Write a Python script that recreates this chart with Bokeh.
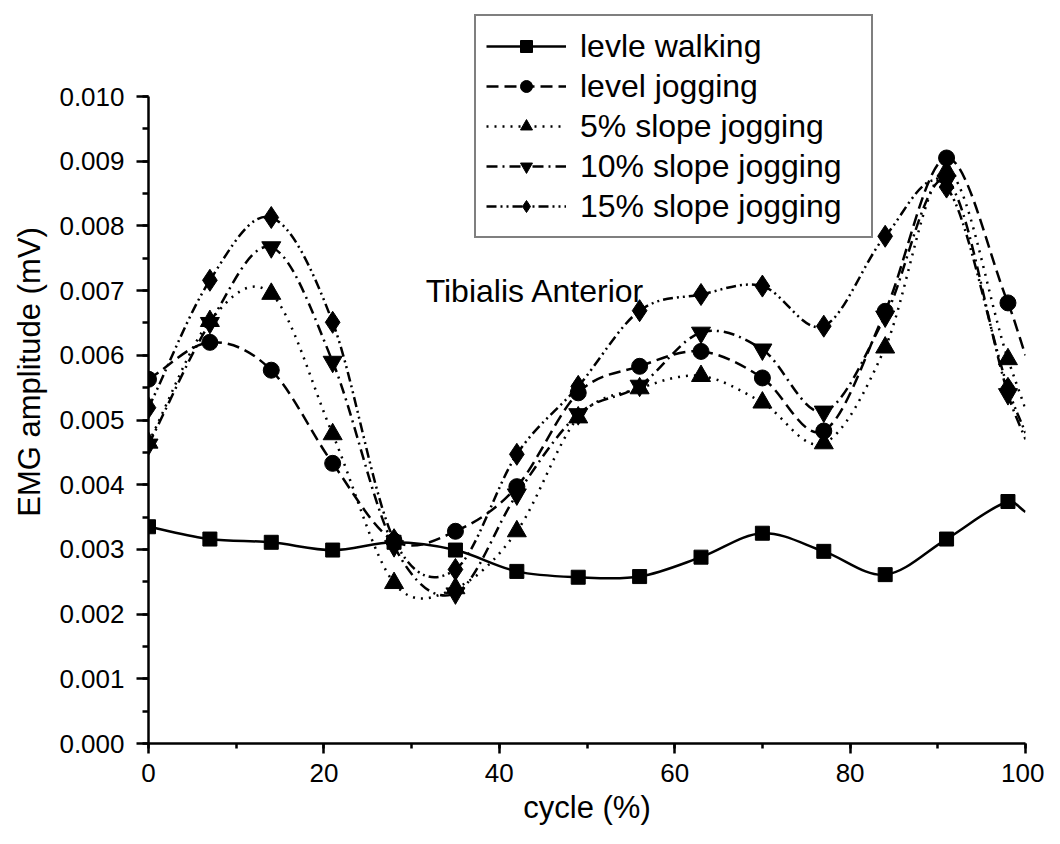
import numpy as np
from bokeh.plotting import figure
from bokeh.models import (Range1d, SingleIntervalTicker, PrintfTickFormatter,
                          Legend, LegendItem, Label, Title, ColumnDataSource)
from bokeh.embed import file_html
from bokeh.resources import INLINE

# gait cycle (%) ; the last point (100) is the end of each curve, markers at 0..98
cycle = [0, 7, 14, 21, 28, 35, 42, 49, 56, 63, 70, 77, 84, 91, 98, 100]

levle_walking = [0.00335, 0.00316, 0.00311, 0.00299, 0.00311, 0.00299, 0.00266, 0.00257,
                 0.00258, 0.00288, 0.00325, 0.00297, 0.00261, 0.00316, 0.00374, 0.00358]
level_jogging = [0.00563, 0.00620, 0.00577, 0.00433, 0.00313, 0.00328, 0.00397, 0.00542,
                 0.00583, 0.00606, 0.00565, 0.00483, 0.00668, 0.00905, 0.00681, 0.00600]
slope5_jogging = [0.00465, 0.00653, 0.00695, 0.00478, 0.00248, 0.00240, 0.00328, 0.00504,
                  0.00549, 0.00568, 0.00527, 0.00464, 0.00612, 0.00885, 0.00594, 0.00517]
slope10_jogging = [0.00462, 0.00650, 0.00767, 0.00590, 0.00305, 0.00232, 0.00385, 0.00509,
                   0.00553, 0.00635, 0.00609, 0.00513, 0.00660, 0.00870, 0.00540, 0.00470]
slope15_jogging = [0.00519, 0.00716, 0.00813, 0.00651, 0.00315, 0.00269, 0.00447, 0.00552,
                   0.00669, 0.00694, 0.00707, 0.00645, 0.00784, 0.00860, 0.00549, 0.00480]

series_names = ["levle walking", "level jogging", "5% slope jogging",
                "10% slope jogging", "15% slope jogging"]
series_values = [levle_walking, level_jogging, slope5_jogging, slope10_jogging, slope15_jogging]

FONT = "Liberation Sans"


def bezier_segments(xs, ys):
    """Smooth connection (cubic Hermite as Bezier segments) through the data points."""
    x = np.asarray(xs, float)
    y = np.asarray(ys, float)
    n = len(x)
    m = np.zeros(n)
    m[0] = (y[1] - y[0]) / (x[1] - x[0])
    m[-1] = (y[-1] - y[-2]) / (x[-1] - x[-2])
    for i in range(1, n - 1):
        m[i] = (y[i + 1] - y[i - 1]) / (x[i + 1] - x[i - 1])
    h = x[1:] - x[:-1]
    return dict(
        x0=x[:-1], y0=y[:-1], x1=x[1:], y1=y[1:],
        cx0=x[:-1] + h / 3, cy0=y[:-1] + m[:-1] * h / 3,
        cx1=x[1:] - h / 3, cy1=y[1:] - m[1:] * h / 3,
    )


# frame extends above 0.010 so that the legend box (above the axis top) is not clipped
p = figure(width=1044, height=836,
           x_range=Range1d(0, 100), y_range=Range1d(0, 0.011484),
           output_backend="svg", toolbar_location=None,
           min_border_left=148, min_border_right=19,
           min_border_top=0, min_border_bottom=93)
p.outline_line_color = None
p.xgrid.visible = False
p.ygrid.visible = False
p.background_fill_color = "white"
p.border_fill_color = "white"

styles = [
    dict(dash="solid", marker="square", size=14),
    dict(dash="12 6", marker="circle", size=16),
    dict(dash="2 6", marker="triangle", size=19),
    dict(dash="11 5 2 5", marker="inverted_triangle", size=19),
    dict(dash="10 4 2 4 2 4", marker="diamond", size=22),
]

items = []
for name, vals, st in zip(series_names, series_values, styles):
    seg = ColumnDataSource(bezier_segments(cycle, vals))
    r_line = p.bezier(x0="x0", y0="y0", x1="x1", y1="y1", cx0="cx0", cy0="cy0",
                      cx1="cx1", cy1="cy1", source=seg,
                      line_color="black", line_width=2.5, line_dash=st["dash"])
    r_mk = p.scatter(cycle[:-1], vals[:-1], marker=st["marker"], size=st["size"],
                     fill_color="black", line_color="black")
    items.append(LegendItem(label=name, renderers=[r_line, r_mk]))

legend = Legend(items=items, location=(326, 505), margin=0,
                border_line_color="black", border_line_width=2,
                background_fill_color="white", background_fill_alpha=1.0,
                label_text_font=FONT, label_text_font_size="32px",
                label_text_color="black",
                glyph_width=80, glyph_height=30, label_height=40, label_width=281,
                spacing=0, padding=10, label_standoff=14)
p.add_layout(legend)

p.add_layout(Label(x=31.6, y=0.0070, text="Tibialis Anterior",
                   text_font=FONT, text_font_size="32px", text_color="black",
                   text_baseline="alphabetic"))

# axes
xa = p.xaxis[0]
ya = p.yaxis[0]
xa.ticker = SingleIntervalTicker(interval=20, num_minor_ticks=2)
ya.ticker = SingleIntervalTicker(interval=0.001, num_minor_ticks=2)
ya.formatter = PrintfTickFormatter(format="%.3f")
ya.bounds = (0, 0.010)
xa.axis_label = "cycle (%)"
for ax in (xa, ya):
    ax.axis_line_width = 2.5
    ax.axis_line_color = "black"
    ax.major_tick_line_width = 2.5
    ax.minor_tick_line_width = 2.5
    ax.major_tick_line_color = "black"
    ax.minor_tick_line_color = "black"
    ax.major_tick_in = 0
    ax.minor_tick_in = 0
    ax.major_label_text_font = FONT
    ax.major_label_text_font_size = "26px"
    ax.major_label_text_color = "black"
    ax.axis_label_text_font = FONT
    ax.axis_label_text_font_size = "31px"
    ax.axis_label_text_font_style = "normal"
    ax.axis_label_text_color = "black"
ya.major_tick_out = 12
ya.minor_tick_out = 6
ya.major_label_standoff = 12
xa.major_tick_out = 10
xa.minor_tick_out = 5
xa.major_label_standoff = 10
xa.axis_label_standoff = 5

# y-axis title, centred on the 0..0.010 part of the axis (not on the taller frame)
p.add_layout(Title(text="EMG amplitude (mV)", align="center", offset=-37,
                   text_font=FONT, text_font_size="31px", text_font_style="normal",
                   text_color="black", standoff=19), "left")

open("out.html", "w").write(file_html(p, INLINE))
